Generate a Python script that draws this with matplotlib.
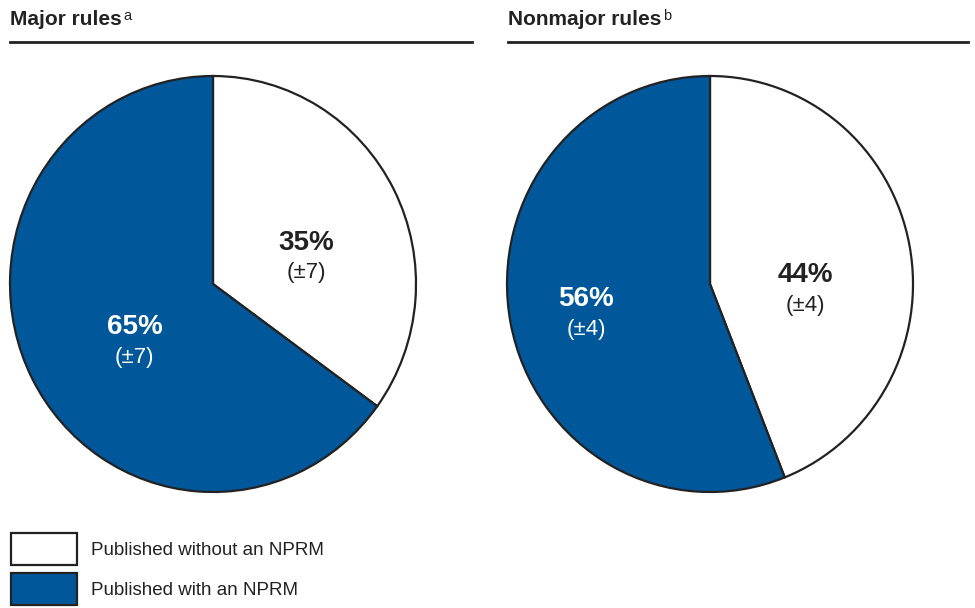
import matplotlib.pyplot as plt
from matplotlib.patches import Patch
from matplotlib.lines import Line2D

plt.rcParams['font.family'] = ['Liberation Sans', 'DejaVu Sans']

# Data
panel_titles = ['Major rules', 'Nonmajor rules']
panel_notes = ['a', 'b']
categories = ['Published without an NPRM', 'Published with an NPRM']
shares = [[35, 65], [44, 56]]
margins = [[7, 7], [4, 4]]

colors = ['white', '#00589B']
text_colors = ['#222222', 'white']
edge = '#222222'

W, H = 975, 608
fig = plt.figure(figsize=(W / 100, H / 100), dpi=100)

# pie centre (px), radii (px), label block centres in data units
centres = [(213, 284), (710, 284)]
rx, ry = 203, 208
label_pos = [[(0.46, 0.125), (-0.385, -0.28)],
             [(0.47, -0.03), (-0.61, -0.145)]]
title_x = [10, 508]
rule_x = [(10, 472), (508, 968)]

for i in range(2):
    cx, cy = centres[i]
    pad = 4
    ax = fig.add_axes([(cx - rx - pad) / W, (H - cy - ry - pad) / H,
                       2 * (rx + pad) / W, 2 * (ry + pad) / H])
    ax.pie(shares[i], colors=colors, startangle=90, counterclock=False,
           wedgeprops=dict(edgecolor=edge, linewidth=1.6))
    ax.set_aspect('auto')
    ax.set_xlim(-(rx + pad) / rx, (rx + pad) / rx)
    ax.set_ylim(-(ry + pad) / ry, (ry + pad) / ry)
    ax.axis('off')

    for j in range(2):
        x, y = label_pos[i][j]
        ax.text(x, y + 0.072, f'{shares[i][j]}%', ha='center', va='center',
                fontsize=20, fontweight='bold', color=text_colors[j])
        ax.text(x, y - 0.072, f'(\u00b1{margins[i][j]})', ha='center', va='center',
                fontsize=16, color=text_colors[j])

    t = fig.text(title_x[i] / W, (H - 25) / H, panel_titles[i], ha='left',
                 va='baseline', fontsize=15, fontweight='bold', color='#222222')
    ax.annotate(panel_notes[i], xy=(1, 1), xycoords=t, xytext=(1, 1),
                textcoords='offset points', ha='left', va='top',
                fontsize=10.5, color='#222222')
    x0, x1 = rule_x[i]
    fig.add_artist(Line2D([x0 / W, x1 / W], [(H - 42) / H] * 2, color='#222222',
                          linewidth=2, transform=fig.transFigure))

handles = [Patch(facecolor=c, edgecolor=edge, linewidth=1.6) for c in colors]
fig.legend(handles, categories, loc='lower left',
           bbox_to_anchor=(11 / W, 3 / H), frameon=False, fontsize=13.5,
           handlelength=3.5, handleheight=2.25, handletextpad=0.75,
           labelspacing=0.43, borderpad=0, borderaxespad=0, labelcolor='#222222')

fig.savefig('out.png', dpi=100)
